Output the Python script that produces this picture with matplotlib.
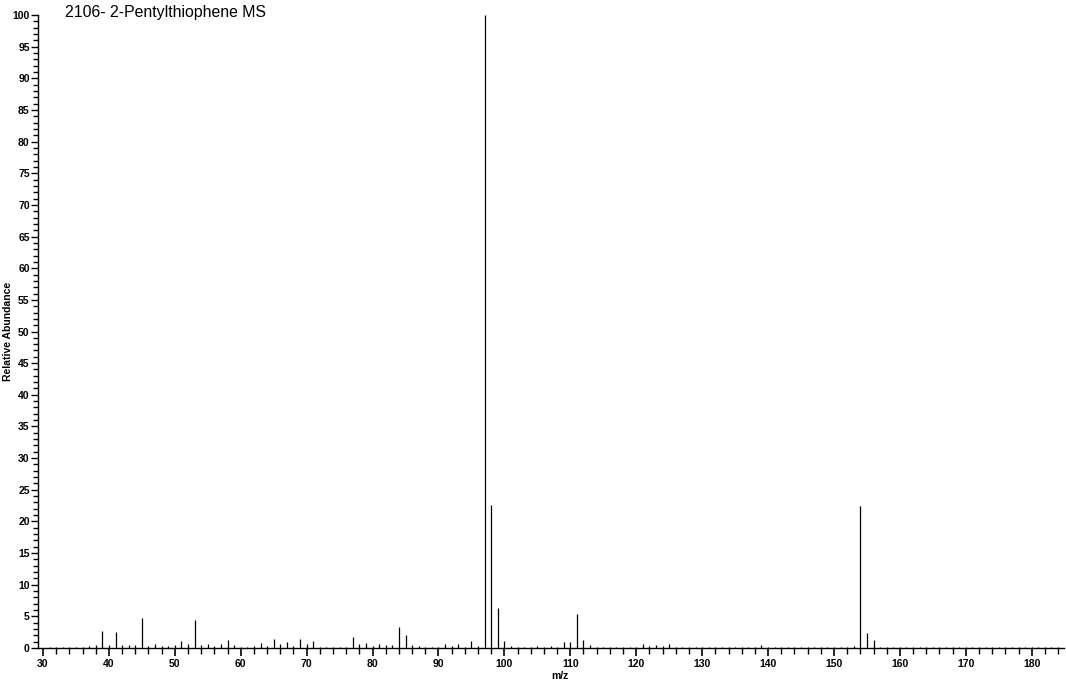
import matplotlib
matplotlib.use("Agg")
import matplotlib.pyplot as plt
from matplotlib.ticker import MultipleLocator

plt.rcParams['font.family'] = ['Liberation Sans', 'DejaVu Sans']

title = "2106- 2-Pentylthiophene MS"
mz = [31, 32, 33, 34, 35, 36, 37, 38, 39, 40,
      41, 42, 43, 44, 45, 46, 47, 48, 49, 50,
      51, 52, 53, 54, 55, 56, 57, 58, 59, 60,
      61, 62, 63, 64, 65, 66, 67, 68, 69, 70,
      71, 72, 73, 74, 75, 76, 77, 78, 79, 80,
      81, 82, 83, 84, 85, 86, 87, 88, 89, 90,
      91, 92, 93, 94, 95, 96, 97, 98, 99, 100,
      101, 102, 103, 104, 105, 106, 107, 108, 109, 110,
      111, 112, 113, 114, 115, 116, 117, 118, 119, 120,
      121, 122, 123, 124, 125, 126, 127, 128, 129, 130,
      131, 132, 133, 134, 135, 136, 137, 138, 139, 140,
      141, 142, 143, 144, 145, 146, 147, 148, 149, 150,
      151, 152, 153, 154, 155, 156, 157, 158, 159, 160,
      161, 162, 163, 164, 165, 166, 167, 168, 169, 170,
      171, 172, 173, 174, 175, 176, 177, 178, 179, 180,
      181, 182, 183, 184]
abundance = [0.1, 0.2, 0.1, 0.2, 0.2, 0.2, 0.3, 0.4, 2.7, 0.4,
             2.5, 0.5, 0.4, 0.4, 4.7, 0.3, 0.6, 0.3, 0.3, 0.5,
             1.1, 0.6, 4.4, 0.4, 0.6, 0.3, 0.6, 1.2, 0.4, 0.2,
             0.2, 0.3, 0.8, 0.3, 1.4, 0.7, 1.0, 0.3, 1.5, 0.7,
             1.1, 0.2, 0.2, 0.2, 0.2, 0.2, 1.7, 0.7, 0.8, 0.3,
             0.6, 0.5, 0.4, 3.3, 2.1, 0.4, 0.3, 0.2, 0.2, 0.2,
             0.7, 0.3, 0.6, 0.2, 1.1, 0.3, 100.0, 22.6, 6.3, 1.1,
             0.3, 0.2, 0.2, 0.2, 0.3, 0.2, 0.3, 0.2, 0.9, 0.9,
             5.3, 1.2, 0.5, 0.2, 0.2, 0.1, 0.1, 0.1, 0.1, 0.1,
             0.6, 0.3, 0.4, 0.3, 0.7, 0.2, 0.2, 0.1, 0.1, 0.1,
             0.1, 0.1, 0.1, 0.1, 0.1, 0.1, 0.1, 0.1, 0.5, 0.1,
             0.1, 0.1, 0.1, 0.1, 0.1, 0.1, 0.1, 0.1, 0.2, 0.2,
             0.2, 0.1, 0.3, 22.4, 2.4, 1.3, 0.1, 0.1, 0.1, 0.1,
             0.1, 0.1, 0.1, 0.1, 0.1, 0.2, 0.2, 0.2, 0.1, 0.1,
             0.1, 0.1, 0.1, 0.1, 0.1, 0.1, 0.1, 0.1, 0.1, 0.1,
             0.1, 0.1, 0.1, 0.1]

fig = plt.figure(figsize=(10.66, 6.81), dpi=100)
ax = fig.add_axes([38 / 1066, 33 / 681, 1026 / 1066, 633 / 681])

ax.vlines(mz, 0, abundance, colors='black', linewidth=0.9)

ax.set_xlim(29.24, 184.9)
ax.set_ylim(0, 100)

for s in ['top', 'right']:
    ax.spines[s].set_visible(False)
for s in ['left', 'bottom']:
    ax.spines[s].set_linewidth(1.0)

ax.xaxis.set_major_locator(MultipleLocator(10))
ax.xaxis.set_minor_locator(MultipleLocator(2))
ax.yaxis.set_major_locator(MultipleLocator(5))
ax.yaxis.set_minor_locator(MultipleLocator(1))

ax.tick_params(axis='x', which='major', direction='out', length=6, width=1.2, pad=2,
               labelsize=7.5)
ax.tick_params(axis='x', which='minor', direction='out', length=4, width=1.0)
ax.tick_params(axis='y', which='major', direction='out', length=5, width=1.0, pad=1,
               labelsize=7.5)
ax.tick_params(axis='y', which='minor', direction='out', length=3.5, width=1.0)
for lab in ax.get_xticklabels() + ax.get_yticklabels():
    lab.set_fontweight('bold')

ax.set_xlabel("m/z", fontsize=7.5, fontweight='bold', labelpad=1)
ax.xaxis.set_label_coords((560 - 38) / 1026, -0.037)
ax.set_ylabel("Relative Abundance", fontsize=7.5, fontweight='bold', va='center')
ax.yaxis.set_label_coords((8 - 38) / 1026, (648 - 331) / 633)

fig.text(65 / 1066, 1 - 12 / 681, title, fontsize=11.4, va='center', ha='left')

fig.savefig("out.png", dpi=100)
